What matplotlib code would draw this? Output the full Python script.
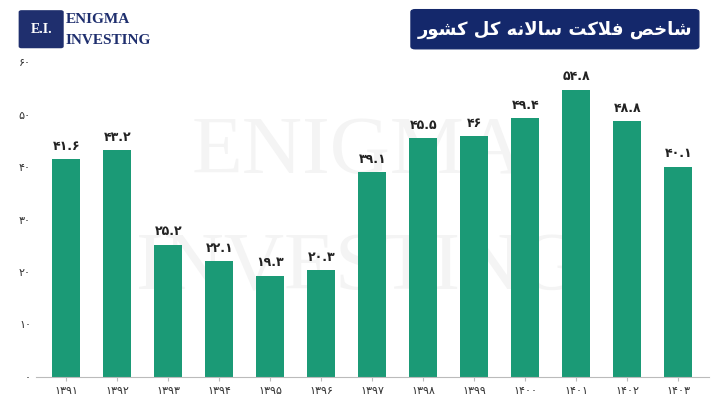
import matplotlib.pyplot as plt
from matplotlib.patches import FancyBboxPatch

years = ["1391", "1392", "1393", "1394", "1395", "1396", "1397",
         "1398", "1399", "1400", "1401", "1402", "1403"]
values = [41.6, 43.2, 25.2, 22.1, 19.3, 20.3, 39.1, 45.5, 46, 49.4, 54.8, 48.8, 40.1]
yticks = [0, 10, 20, 30, 40, 50, 60]

FA = str.maketrans("0123456789", "۰۱۲۳۴۵۶۷۸۹")
def fa(s):
    return str(s).translate(FA)

# title written with Arabic presentation forms, visual (left-to-right) order
title_logical = ("\uFEB7\uFE8E\uFEA7\uFEBA" + " " +
                 "\uFED3\uFEFC\uFB90\uFE96" + " " +
                 "\uFEB3\uFE8E\uFEFB\uFEE7\uFEEA" + " " +
                 "\uFB90\uFEDE" + " " +
                 "\uFB90\uFEB8\uFEEE\uFEAD")
title = title_logical[::-1]

plt.rcParams['font.family'] = ['DejaVu Sans', 'Noto Sans']
GREEN = "#1b9a76"

fig = plt.figure(figsize=(7.16, 4.03), dpi=100)
ax = fig.add_axes([0.05, 0.065, 0.94, 0.78])
ax.patch.set_visible(False)

# watermark behind bars
ax.text(0.5, 0.62, "ENIGMA", fontsize=60, color="#f4f4f4", ha="center", va="center",
        family="Liberation Serif", zorder=0, transform=fig.transFigure)
ax.text(0.5, 0.33, "INVESTING", fontsize=60, color="#f4f4f4", ha="center", va="center",
        family="Liberation Serif", zorder=0, transform=fig.transFigure)

x = range(len(years))
ax.bar(x, values, width=0.55, color=GREEN, zorder=2)
for i, v in zip(x, values):
    ax.text(i, v + 1.2, fa(v), ha="center", va="bottom", fontsize=9, color="#222",
            weight="bold", zorder=3)
ax.set_ylim(0, 60)
ax.set_xlim(-0.6, len(years) - 0.4)
ax.set_yticks(yticks)
ax.set_yticklabels([fa(t) for t in yticks], fontsize=8, color="#333")
ax.set_xticks(list(x))
ax.set_xticklabels([fa(y) for y in years], fontsize=8, color="#333")
for s in ["top", "right", "left"]:
    ax.spines[s].set_visible(False)
ax.spines["bottom"].set_color("#bbbbbb")
ax.tick_params(axis="y", length=0)
ax.tick_params(axis="x", length=3, color="#bbbbbb")

# logo
fig.patches.append(FancyBboxPatch((0.03, 0.885), 0.055, 0.085, boxstyle="round,pad=0.003",
                                  transform=fig.transFigure, color="#1f2f6e"))
fig.text(0.0575, 0.927, "E.I.", color="white", fontsize=10, ha="center", va="center",
         family="Liberation Serif", weight="bold")
fig.text(0.092, 0.952, "ENIGMA", color="#1f2f6e", fontsize=11, va="center",
         family="Liberation Serif", weight="bold")
fig.text(0.092, 0.9, "INVESTING", color="#1f2f6e", fontsize=11, va="center",
         family="Liberation Serif", weight="bold")

# title box
fig.patches.append(FancyBboxPatch((0.58, 0.885), 0.39, 0.085, boxstyle="round,pad=0.006",
                                  transform=fig.transFigure, color="#14286b"))
fig.text(0.775, 0.927, title, color="white", fontsize=13, weight="bold",
         ha="center", va="center")

fig.savefig("out.png", dpi=100)
